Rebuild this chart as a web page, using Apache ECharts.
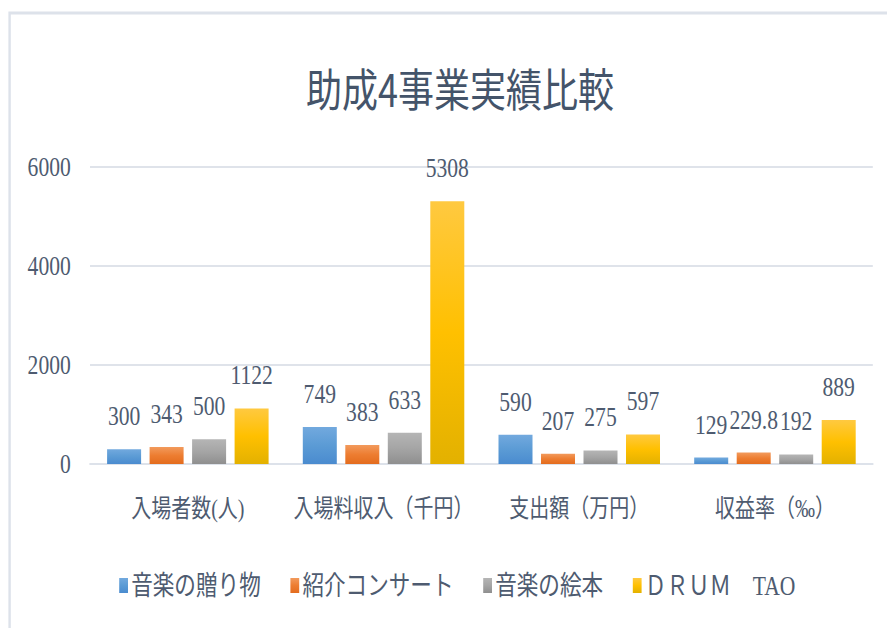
<!DOCTYPE html>
<html>
<head>
<meta charset="utf-8">
<script src="https://cdn.jsdelivr.net/npm/echarts@6/dist/echarts.min.js"></script>
<style>
html,body{margin:0;padding:0;background:#fff;overflow:hidden;}
#wrap{width:887px;height:628px;overflow:hidden;position:relative;}
#c{width:1109px;height:628px;transform:scaleX(0.8);transform-origin:0 0;position:absolute;left:0;top:0;}
</style>
</head>
<body>
<div id="wrap"><div id="c"></div></div>
<script>
const titleText = '助成4事業実績比較';
const categories = ['入場者数(人)', '入場料収入（千円）', '支出額（万円）', '収益率（‰）'];
const seriesNames = ['音楽の贈り物', '紹介コンサート', '音楽の絵本', 'ＤＲＵＭ　TAO'];
const giftValues = [300, 749, 590, 129];
const concertValues = [343, 383, 207, 229.8];
const picturebookValues = [500, 633, 275, 192];
const drumTaoValues = [1122, 5308, 597, 889];
const yMin = 0, yMax = 6000, yInterval = 2000;

const textColor = '#4e5b70';
const fontFam = "'Liberation Serif', 'Noto Sans CJK JP', serif";

function grad(top, mid, bottom) {
  return new echarts.graphic.LinearGradient(0, 0, 0, 1, [
    {offset: 0, color: top}, {offset: 0.5, color: mid}, {offset: 1, color: bottom}
  ]);
}
const colors = [
  grad('#72a9de', '#5b9bd5', '#4a8bcf'),
  grad('#f29a5c', '#ed7d31', '#e36c1e'),
  grad('#b5b5b5', '#a5a5a5', '#8f8f8f'),
  grad('#ffc940', '#ffc000', '#e3b100')
];
const dataSets = [giftValues, concertValues, picturebookValues, drumTaoValues];

const chart = echarts.init(document.getElementById('c'), null, {renderer: 'svg'});
chart.setOption({
  animation: false,
  backgroundColor: '#ffffff',
  graphic: [{
    type: 'rect', silent: true, z: -1,
    shape: {x: 12, y: 13, width: 2000, height: 1000},
    style: {fill: 'none', stroke: '#dde2ea', lineWidth: 3}
  }],
  title: {
    text: titleText,
    left: 570, top: 60, textAlign: 'center',
    textStyle: {fontFamily: "'Noto Sans CJK JP', sans-serif", fontWeight: 'normal', fontSize: 45, color: '#44546a'}
  },
  legend: {
    data: seriesNames,
    left: 144, top: 567,
    icon: 'rect', itemWidth: 11, itemHeight: 15, itemGap: 37,
    textStyle: {fontFamily: fontFam, fontSize: 27, color: textColor, padding: [0, 0, 0, -1]}
  },
  grid: {left: 112.5, right: 18, top: 167, bottom: 164, containLabel: false},
  xAxis: {
    type: 'category', data: categories,
    axisLine: {show: true, lineStyle: {color: '#dde2ea', width: 2}},
    axisTick: {show: false},
    axisLabel: {fontFamily: fontFam, fontSize: 25, color: textColor, margin: 32, interval: 0}
  },
  yAxis: {
    type: 'value', min: yMin, max: yMax, interval: yInterval,
    axisLine: {show: false}, axisTick: {show: false},
    splitLine: {lineStyle: {color: '#dfe3ea', width: 2}},
    axisLabel: {fontFamily: fontFam, fontSize: 27, color: textColor, margin: 24, formatter: v => String(v)}
  },
  series: dataSets.map((d, i) => ({
    name: seriesNames[i], type: 'bar', data: d,
    barWidth: 42.5, barGap: '25%',
    itemStyle: {color: colors[i]},
    label: {show: true, position: 'top', distance: 20, fontFamily: fontFam, fontSize: 27, color: textColor}
  }))
});
</script>
</body>
</html>
